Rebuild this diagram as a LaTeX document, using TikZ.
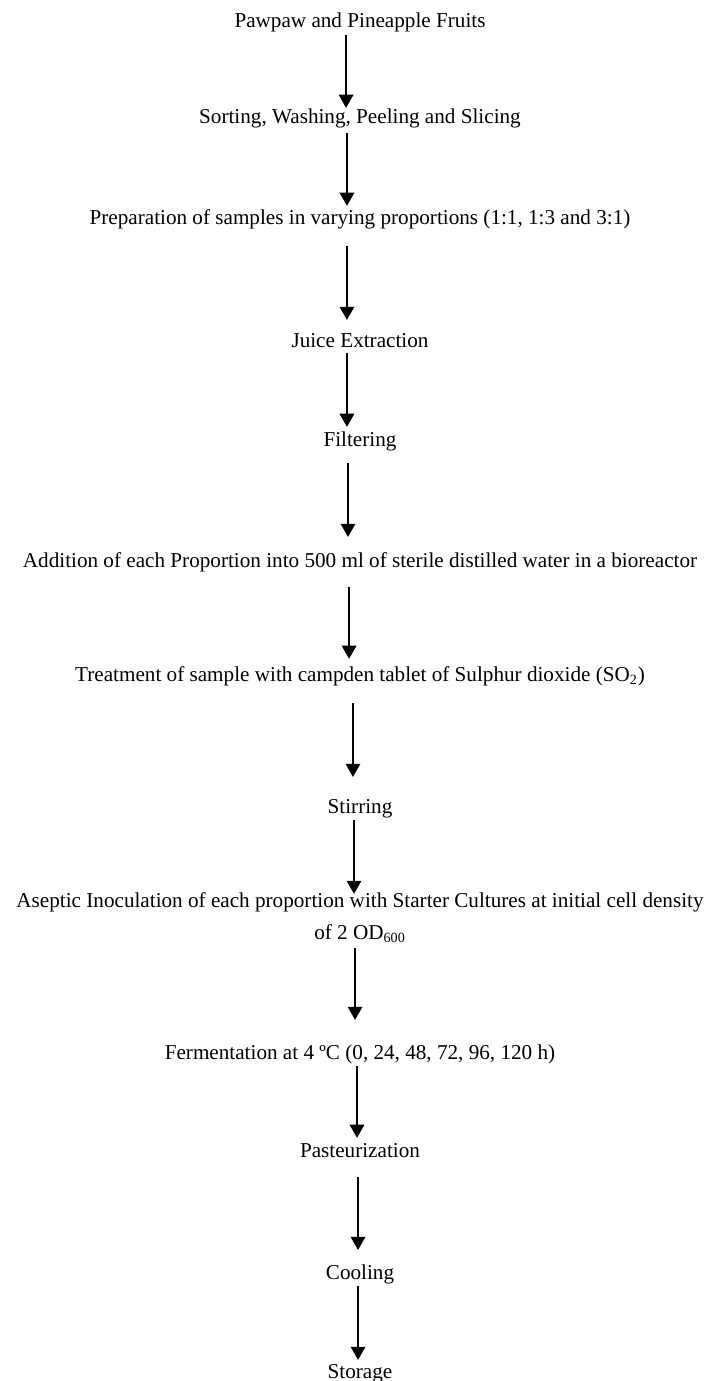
\documentclass[tikz,border=0pt]{standalone}
\usepackage{fontspec}
\setmainfont{Liberation Serif}
\usetikzlibrary{arrows.meta}

\begin{document}
\begin{tikzpicture}[x=0.567pt,y=-0.567pt,>={Triangle[width=8pt,length=7.5pt]},
  stage/.style={inner sep=0pt,anchor=base,align=center,font=\fontsize{12}{17.6}\selectfont},
  flow/.style={->,line width=1.6pt}]
\useasboundingbox (0,0) rectangle (707,1381);
% process stages
\node[stage] (fruits) at (360,28) {Pawpaw and Pineapple Fruits};
\node[stage] (sort) at (360,124) {Sorting, Washing, Peeling and Slicing};
\node[stage] (prep) at (360,225) {Preparation of samples in varying proportions (1:1, 1:3 and 3:1)};
\node[stage] (juice) at (360,347) {Juice Extraction};
\node[stage] (filter) at (360,446) {Filtering};
\node[stage] (add) at (360,567) {Addition of each Proportion into 500 ml of sterile distilled water in a bioreactor};
\node[stage] (treat) at (360,681) {Treatment of sample with campden tablet of Sulphur dioxide (SO\textsubscript{2})};
\node[stage] (stir) at (360,813) {Stirring};
\node[stage] (inoc) at (360,939) {Aseptic Inoculation of each proportion with Starter Cultures at initial cell density\\of 2 OD\textsubscript{600}};
\node[stage] (ferm) at (360,1059) {Fermentation at 4 ºC (0, 24, 48, 72, 96, 120 h)};
\node[stage] (past) at (360,1157) {Pasteurization};
\node[stage] (cool) at (360,1279) {Cooling};
\node[stage] (store) at (360,1378) {Storage};
% arrows
\draw[flow] ([xshift=-7.9pt,yshift=-4pt]fruits.base) -- ([xshift=-7.9pt,yshift=9.1pt]sort.base);
\draw[flow] ([xshift=-7.4pt,yshift=-5.1pt]sort.base) -- ([xshift=-7.4pt,yshift=10.8pt]prep.base);
\draw[flow] ([xshift=-7.4pt,yshift=-11.9pt]prep.base) -- ([xshift=-7.4pt,yshift=15.3pt]juice.base);
\draw[flow] ([xshift=-7.4pt,yshift=-3.4pt]juice.base) -- ([xshift=-7.4pt,yshift=10.8pt]filter.base);
\draw[flow] ([xshift=-6.8pt,yshift=-9.6pt]filter.base) -- ([xshift=-6.8pt,yshift=17pt]add.base);
\draw[flow] ([xshift=-6.2pt,yshift=-11.3pt]add.base) -- ([xshift=-6.2pt,yshift=12.5pt]treat.base);
\draw[flow] ([xshift=-4pt,yshift=-12.5pt]treat.base) -- ([xshift=-4pt,yshift=20.4pt]stir.base);
\draw[flow] ([xshift=-3.4pt,yshift=-4pt]stir.base) -- ([xshift=-3.4pt,yshift=25.5pt]inoc.base);
\draw[flow] ([xshift=-2.8pt,yshift=-5.1pt]inoc.base) -- ([xshift=-2.8pt,yshift=22.1pt]ferm.base);
\draw[flow] ([xshift=-1.7pt,yshift=-4pt]ferm.base) -- ([xshift=-1.7pt,yshift=10.8pt]past.base);
\draw[flow] ([xshift=-1.1pt,yshift=-11.3pt]past.base) -- ([xshift=-1.1pt,yshift=16.4pt]cool.base);
\draw[flow] ([xshift=-1.1pt,yshift=-4pt]cool.base) -- ([xshift=-1.1pt,yshift=10.2pt]store.base);
\end{tikzpicture}
\end{document}
